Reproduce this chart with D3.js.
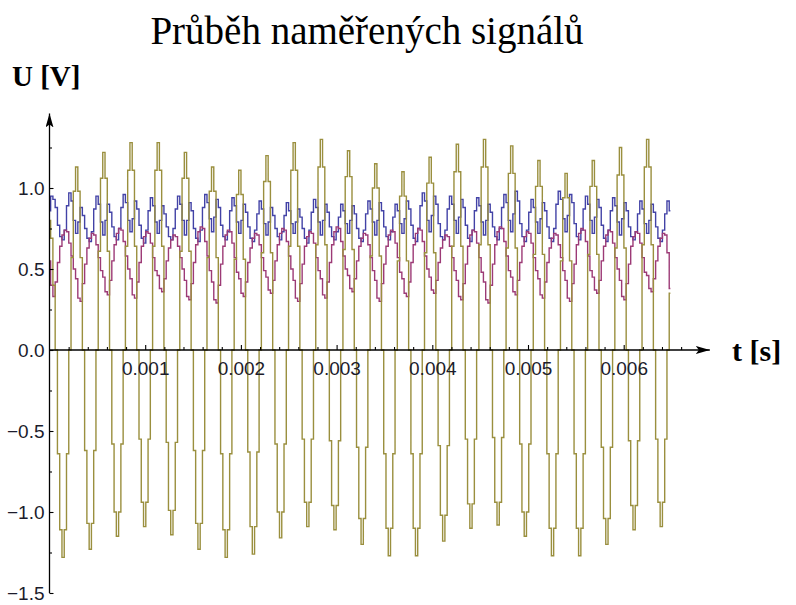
<!DOCTYPE html>
<html><head><meta charset="utf-8">
<script src="https://cdn.jsdelivr.net/npm/d3@7"></script>
<style>body{margin:0;background:#fff;}svg{display:block;}</style>
</head><body>
<svg id="chart" width="796" height="605"></svg>
<script>
const titleText = "Průběh naměřených signálů";
const xAxisLabel = "t [s]";
const yAxisLabel = "U [V]";
const sampleInterval = 2.3677e-5; // seconds between samples
const xTicks = [0.001, 0.002, 0.003, 0.004, 0.005, 0.006];
const xTickLabels = ["0.001", "0.002", "0.003", "0.004", "0.005", "0.006"];
const xMinorTicks = [0.0002,0.0004,0.0006,0.0008,0.0012,0.0014,0.0016,0.0018,0.0022,0.0024,0.0026,0.0028,0.0032,0.0034,0.0036,0.0038,0.0042,0.0044,0.0046,0.0048,0.0052,0.0054,0.0056,0.0058,0.0062,0.0064,0.0066];
const yTicks = [-1.5, -1.0, -0.5, 0.0, 0.5, 1.0];
const yTickLabels = ["\u22121.5", "\u22121.0", "\u22120.5", "0.0", "0.5", "1.0"];
const yMinorTicks = [-1.25, -0.75, -0.25, 0.25, 0.75, 1.25];

const seriesBlue = [
0.86,0.95,0.93,0.88,0.77,0.70,0.68,0.74,0.89,0.97,0.92,0.80,
0.72,0.79,0.88,0.83,0.75,0.69,0.67,0.73,0.87,0.95,0.90,0.79,
0.71,0.80,0.90,0.85,0.76,0.70,0.68,0.75,0.88,0.96,0.91,0.80,
0.73,0.81,0.92,0.87,0.77,0.69,0.66,0.74,0.86,0.94,0.89,0.79,
0.72,0.80,0.89,0.84,0.76,0.70,0.68,0.75,0.87,0.95,0.90,0.80,
0.71,0.80,0.91,0.86,0.75,0.69,0.67,0.74,0.88,0.96,0.91,0.81,
0.73,0.82,0.93,0.88,0.77,0.70,0.68,0.73,0.86,0.94,0.89,0.79,
0.72,0.80,0.90,0.85,0.76,0.69,0.67,0.74,0.84,0.92,0.87,0.78,
0.71,0.79,0.88,0.83,0.75,0.70,0.68,0.73,0.83,0.91,0.86,0.78,
0.72,0.79,0.87,0.82,0.75,0.69,0.66,0.74,0.85,0.93,0.88,0.79,
0.71,0.80,0.90,0.85,0.76,0.70,0.68,0.73,0.82,0.90,0.86,0.78,
0.72,0.80,0.89,0.84,0.75,0.69,0.67,0.74,0.84,0.92,0.87,0.79,
0.71,0.80,0.91,0.86,0.76,0.70,0.68,0.73,0.82,0.90,0.86,0.78,
0.72,0.81,0.92,0.87,0.77,0.69,0.67,0.75,0.89,0.97,0.92,0.80,
0.73,0.83,0.95,0.90,0.78,0.70,0.68,0.74,0.87,0.95,0.90,0.80,
0.72,0.82,0.93,0.88,0.77,0.69,0.67,0.74,0.86,0.94,0.89,0.79,
0.71,0.80,0.90,0.85,0.76,0.70,0.68,0.75,0.88,0.96,0.91,0.80,
0.73,0.84,0.98,0.92,0.78,0.70,0.67,0.74,0.85,0.93,0.88,0.79,
0.72,0.81,0.91,0.86,0.76,0.69,0.67,0.75,0.90,0.98,0.93,0.81,
0.73,0.83,0.96,0.91,0.78,0.70,0.68,0.74,0.87,0.95,0.90,0.80,
0.72,0.82,0.93,0.88,0.77,0.69,0.67,0.74,0.86,0.94,0.89,0.79,
0.71,0.81,0.91,0.86,0.76,0.70,0.68,0.73,0.84,0.92,0.87,0.78,
0.72,0.80,0.90,0.85,0.76,0.69,0.67,0.74,0.84,0.92,0.86
];

const seriesMagenta = [
0.55,0.40,0.33,0.42,0.54,0.64,0.71,0.74,0.73,0.66,0.58,0.50,
0.44,0.32,0.30,0.41,0.53,0.63,0.69,0.72,0.71,0.65,0.57,0.49,
0.45,0.36,0.34,0.43,0.55,0.65,0.72,0.75,0.74,0.67,0.58,0.50,
0.44,0.34,0.32,0.42,0.54,0.64,0.70,0.73,0.72,0.66,0.57,0.49,
0.46,0.38,0.36,0.44,0.55,0.63,0.68,0.71,0.70,0.64,0.57,0.50,
0.43,0.33,0.31,0.41,0.54,0.65,0.73,0.76,0.75,0.67,0.58,0.49,
0.42,0.31,0.29,0.40,0.53,0.64,0.71,0.74,0.73,0.66,0.57,0.48,
0.44,0.35,0.33,0.42,0.54,0.63,0.69,0.72,0.71,0.65,0.57,0.49,
0.45,0.37,0.35,0.43,0.55,0.65,0.72,0.75,0.74,0.67,0.58,0.50,
0.43,0.32,0.30,0.41,0.53,0.64,0.70,0.73,0.72,0.66,0.57,0.49,
0.44,0.34,0.32,0.42,0.54,0.65,0.73,0.76,0.75,0.67,0.58,0.50,
0.46,0.38,0.36,0.44,0.55,0.64,0.69,0.72,0.71,0.65,0.57,0.49,
0.43,0.32,0.30,0.41,0.53,0.64,0.71,0.74,0.73,0.66,0.57,0.48,
0.44,0.35,0.33,0.42,0.54,0.65,0.72,0.75,0.74,0.67,0.58,0.50,
0.45,0.37,0.35,0.43,0.54,0.63,0.68,0.71,0.70,0.64,0.57,0.49,
0.43,0.33,0.31,0.41,0.53,0.64,0.71,0.74,0.73,0.66,0.57,0.48,
0.42,0.31,0.29,0.40,0.53,0.65,0.73,0.76,0.75,0.67,0.58,0.49,
0.45,0.36,0.34,0.43,0.54,0.64,0.70,0.73,0.72,0.66,0.57,0.49,
0.44,0.34,0.32,0.42,0.54,0.63,0.69,0.72,0.71,0.65,0.57,0.49,
0.43,0.32,0.30,0.41,0.53,0.65,0.72,0.75,0.74,0.67,0.58,0.49,
0.45,0.37,0.35,0.43,0.55,0.64,0.71,0.74,0.73,0.66,0.57,0.50,
0.43,0.33,0.31,0.41,0.53,0.64,0.70,0.73,0.72,0.66,0.57,0.48,
0.46,0.38,0.36,0.44,0.55,0.64,0.69,0.72,0.71,0.60,0.38
];

const seriesOlive = [
0.80,0.69,0.40,0.00,-0.64,-1.11,-1.28,-1.11,-0.64,0.00,0.57,0.98,
1.13,0.98,0.57,0.00,-0.62,-1.07,-1.23,-1.07,-0.62,0.00,0.61,1.06,
1.22,1.06,0.61,0.00,-0.58,-1.00,-1.15,-1.00,-0.58,0.00,0.64,1.11,
1.28,1.11,0.64,0.00,-0.55,-0.94,-1.09,-0.94,-0.55,0.00,0.64,1.11,
1.28,1.11,0.64,0.00,-0.57,-0.99,-1.14,-0.99,-0.57,0.00,0.61,1.06,
1.22,1.06,0.61,0.00,-0.62,-1.07,-1.23,-1.07,-0.62,0.00,0.57,0.98,
1.13,0.98,0.57,0.00,-0.64,-1.11,-1.28,-1.11,-0.64,0.00,0.56,0.96,
1.11,0.96,0.56,0.00,-0.63,-1.09,-1.26,-1.09,-0.63,0.00,0.60,1.04,
1.20,1.04,0.60,0.00,-0.58,-1.00,-1.16,-1.00,-0.58,0.00,0.64,1.11,
1.28,1.11,0.64,0.00,-0.55,-0.94,-1.09,-0.94,-0.55,0.00,0.65,1.13,
1.30,1.13,0.65,0.00,-0.56,-0.96,-1.11,-0.96,-0.56,0.00,0.62,1.07,
1.23,1.07,0.62,0.00,-0.60,-1.04,-1.20,-1.04,-0.60,0.00,0.58,1.00,
1.15,1.00,0.58,0.00,-0.64,-1.10,-1.27,-1.10,-0.64,0.00,0.55,0.95,
1.10,0.95,0.55,0.00,-0.64,-1.10,-1.27,-1.10,-0.64,0.00,0.60,1.03,
1.19,1.03,0.60,0.00,-0.59,-1.02,-1.18,-1.02,-0.59,0.00,0.64,1.10,
1.27,1.10,0.64,0.00,-0.55,-0.95,-1.10,-0.95,-0.55,0.00,0.65,1.13,
1.30,1.13,0.65,0.00,-0.54,-0.94,-1.08,-0.94,-0.54,0.00,0.63,1.09,
1.26,1.09,0.63,0.00,-0.58,-1.00,-1.15,-1.00,-0.58,0.00,0.59,1.01,
1.17,1.01,0.59,0.00,-0.64,-1.10,-1.27,-1.10,-0.64,0.00,0.55,0.94,
1.09,0.94,0.55,0.00,-0.64,-1.10,-1.27,-1.10,-0.64,0.00,0.59,1.01,
1.17,1.01,0.59,0.00,-0.60,-1.04,-1.20,-1.04,-0.60,0.00,0.63,1.08,
1.25,1.08,0.63,0.00,-0.56,-0.96,-1.11,-0.96,-0.56,0.00,0.65,1.13,
1.30,1.13,0.65,0.00,-0.55,-0.94,-1.09,-0.94,-0.55,0.00,0.35
];

const seriesList = [
  {name: "blue", values: seriesBlue, color: "#4242a6"},
  {name: "magenta", values: seriesMagenta, color: "#9c3a76"},
  {name: "olive", values: seriesOlive, color: "#9a8f3e"}
];

const svg = d3.select("#chart");
const x = d3.scaleLinear().domain([0, 0.006]).range([49.5, 623.7]);
const y = d3.scaleLinear().domain([-1.5, 1.0]).range([593, 188]);

// Title
svg.append("text").attr("x", 367).attr("y", 44).attr("text-anchor", "middle")
  .style("font-family", "'Liberation Serif','Times New Roman',serif").style("font-size", "39px")
  .attr("fill", "#000").text(titleText);

// Series (sampled data drawn as steps)
const line = d3.line().x((d, i) => x(i * sampleInterval)).y(d => y(d)).curve(d3.curveStep);
const gLines = svg.append("g");
seriesList.forEach(s => {
  gLines.append("path").datum(s.values).attr("d", line)
    .attr("fill", "none").attr("stroke", s.color).attr("stroke-width", 1.4);
});

// Axes
const axisColor = "#000";
const defs = svg.append("defs");
defs.append("marker").attr("id", "arrow").attr("viewBox", "0 0 14 8").attr("refX", 14).attr("refY", 4)
  .attr("markerWidth", 14).attr("markerHeight", 8).attr("markerUnits", "userSpaceOnUse").attr("orient", "auto")
  .append("path").attr("d", "M0,0 L14,4 L0,8 L3,4 Z").attr("fill", axisColor);

const x0 = x(0), y0 = y(0);
svg.append("line").attr("x1", x0).attr("x2", x(0.0069)).attr("y1", y0).attr("y2", y0)
  .attr("stroke", axisColor).attr("stroke-width", 1.3).attr("marker-end", "url(#arrow)");
svg.append("line").attr("x1", x0).attr("x2", x0).attr("y1", y(-1.5)).attr("y2", y(1.46))
  .attr("stroke", axisColor).attr("stroke-width", 1.3).attr("marker-end", "url(#arrow)");

const tickFont = "'Liberation Sans', Arial, sans-serif";
const gx = svg.append("g").attr("transform", `translate(0,${y0})`)
  .call(d3.axisBottom(x).tickValues(xTicks).tickSize(-5).tickPadding(12)
    .tickFormat((d, i) => xTickLabels[i]));
const gxm = svg.append("g").attr("transform", `translate(0,${y0})`)
  .call(d3.axisBottom(x).tickValues(xMinorTicks).tickSize(-3).tickFormat(""));
const gy = svg.append("g").attr("transform", `translate(${x0},0)`)
  .call(d3.axisLeft(y).tickValues(yTicks).tickSize(-4).tickPadding(5)
    .tickFormat((d, i) => yTickLabels[i]));
const gym = svg.append("g").attr("transform", `translate(${x0},0)`)
  .call(d3.axisLeft(y).tickValues(yMinorTicks).tickSize(-2.5).tickFormat(""));
[gx, gxm, gy, gym].forEach(g => {
  g.select(".domain").remove();
  g.selectAll(".tick line").attr("stroke", axisColor).attr("stroke-width", 1.1);
  g.selectAll("text").style("font-family", tickFont).style("font-size", "19px").attr("fill", "#1c1c2c");
});
gx.raise(); gy.raise();

// Axis labels
svg.append("text").attr("x", 732).attr("y", 361)
  .style("font-family", "'Liberation Serif','Times New Roman',serif").style("font-size", "30px")
  .style("font-weight", "bold").attr("fill", "#000").text(xAxisLabel);
svg.append("text").attr("x", 12).attr("y", 86)
  .style("font-family", "'Liberation Serif','Times New Roman',serif").style("font-size", "29px")
  .style("font-weight", "bold").attr("fill", "#000").text(yAxisLabel);
</script>
</body></html>
